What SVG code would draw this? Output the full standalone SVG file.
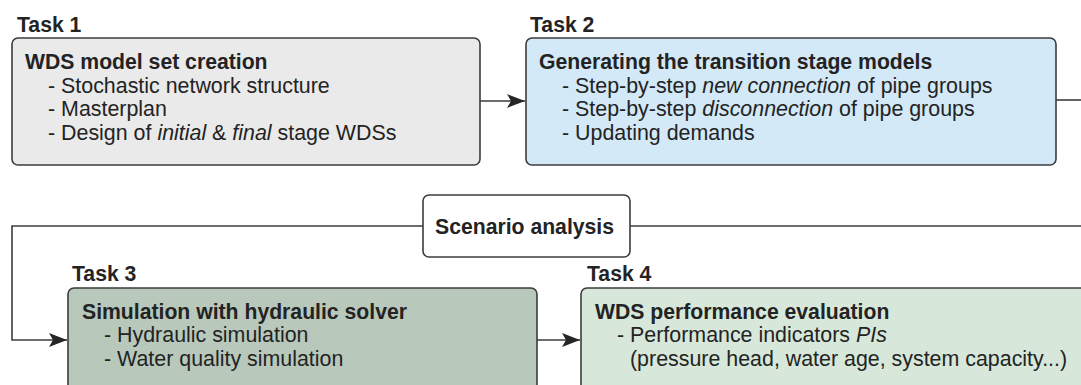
<svg xmlns="http://www.w3.org/2000/svg" width="1081" height="385" viewBox="0 0 1081 385">
<style>
text{font-family:"Liberation Sans",Arial,sans-serif;font-size:21.4px;fill:#232323}
.b{font-weight:bold;font-size:21.2px}
.box{stroke:#3c3c3c;stroke-width:1.6}
.ln{fill:none;stroke:#3c3c3c;stroke-width:1.6}
</style>
<defs>
<marker id="ah" markerWidth="18" markerHeight="14" refX="18" refY="7" orient="auto" markerUnits="userSpaceOnUse">
<path d="M0,0 L18,7 L0,14 L4,7 Z" fill="#262626"/>
</marker>
</defs>
<rect width="1081" height="385" fill="#ffffff"/>
<g id="connectors">
<path class="ln" d="M480,101 L525,101" marker-end="url(#ah)"/>
<path class="ln" d="M1056,100 L1081,100"/>
<path class="ln" d="M1081,226 L630,226"/>
<path class="ln" d="M423,226 L12,226 L12,340 L67,340" marker-end="url(#ah)"/>
<path class="ln" d="M537,340 L580,340" marker-end="url(#ah)"/>
</g>
<g id="task1">
<text class="b" x="17" y="32">Task 1</text>
<rect class="box" x="12" y="38" width="468" height="127" rx="6" fill="#e9eae9"/>
<text class="b" x="25" y="68.5">WDS model set creation</text>
<text x="48" y="92.5">- Stochastic network structure</text>
<text x="48" y="116">- Masterplan</text>
<text x="48" y="139.5">- Design of <tspan font-style="italic">initial</tspan> &amp; <tspan font-style="italic">final</tspan> stage WDSs</text>
</g>
<g id="task2">
<text class="b" x="530" y="32">Task 2</text>
<rect class="box" x="526" y="38" width="530" height="127" rx="6" fill="#d3e9f7"/>
<text class="b" x="539" y="68.5">Generating the transition stage models</text>
<text x="562" y="92.5">- Step-by-step <tspan font-style="italic">new connection</tspan> of pipe groups</text>
<text x="562" y="116">- Step-by-step <tspan font-style="italic">disconnection</tspan> of pipe groups</text>
<text x="562" y="139.5">- Updating demands</text>
</g>
<g id="scenario">
<rect class="box" x="423" y="195" width="207" height="62" rx="6" fill="#ffffff"/>
<text class="b" x="435" y="234">Scenario analysis</text>
</g>
<g id="task3">
<text class="b" x="72" y="281">Task 3</text>
<rect class="box" x="68" y="288" width="469" height="110" rx="6" fill="#b8c9bb"/>
<text class="b" x="82" y="318.5">Simulation with hydraulic solver</text>
<text x="104" y="342">- Hydraulic simulation</text>
<text x="104" y="365.5">- Water quality simulation</text>
</g>
<g id="task4">
<text class="b" x="587" y="281">Task 4</text>
<rect class="box" x="581" y="288" width="520" height="110" rx="6" fill="#d7e8da"/>
<text class="b" x="595" y="318.5">WDS performance evaluation</text>
<text x="617" y="342">- Performance indicators <tspan font-style="italic">PIs</tspan></text>
<text x="630" y="365.5">(pressure head, water age, system capacity...)</text>
</g>
</svg>
